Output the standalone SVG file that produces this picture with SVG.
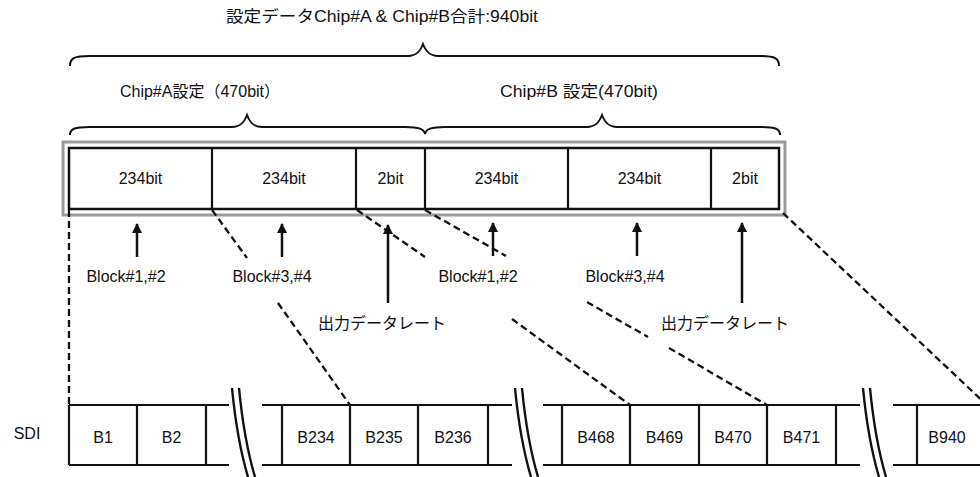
<svg xmlns="http://www.w3.org/2000/svg" width="980" height="477" viewBox="0 0 980 477">
<style>
text{font-family:"Liberation Sans","Noto Sans CJK JP",sans-serif;fill:#111;text-anchor:middle}
.lbl{font-size:16px}
.cell{font-size:16px}
.brace{fill:none;stroke:#111;stroke-width:2}
.box{fill:#fff;stroke:#111;stroke-width:2.5}
.ln{stroke:#111;stroke-width:2.2;fill:none}
.dash{stroke:#111;stroke-width:2.3;stroke-dasharray:7 4;fill:none}
.arr{stroke:#111;stroke-width:2.5;fill:none;marker-end:url(#ah)}
.brk{stroke:#111;stroke-width:2.4;fill:none}
</style>
<defs>
<marker id="ah" viewBox="0 0 10 10" refX="9" refY="5" markerWidth="4" markerHeight="4" orient="auto" markerUnits="strokeWidth">
<path d="M0,0 L10,5 L0,10 z" fill="#111"/>
</marker>
</defs>
<rect width="980" height="477" fill="#fff"/>

<g id="title">
<text class="lbl" x="226" y="22" font-size="18" style="text-anchor:start" textLength="312" lengthAdjust="spacingAndGlyphs">設定データChip#A &amp; Chip#B合計:940bit</text>
<path class="brace" d="M70,66 C70,58 74,56 90,56 L408,56 C416,56 420,52 423,44 C426,52 430,56 438,56 L759,56 C775,56 779,58 779,66"/>
</g>

<g id="chipA-label">
<text class="lbl" x="200" y="97" font-size="15.5">Chip#A設定（470bit）</text>
<path class="brace" d="M70,135 C70,129 74,127 90,127 L232,127 C240,127 244,123 247,115 C250,123 254,127 262,127 L405,127 C419,127 424,129 425,134"/>
</g>
<g id="chipB-label">
<text class="lbl" x="500" y="97" font-size="17" style="text-anchor:start" textLength="158" lengthAdjust="spacingAndGlyphs">Chip#B 設定(470bit)</text>
<path class="brace" d="M425,134 C426,129 431,127 445,127 L587,127 C595,127 599,123 602,115 C605,123 609,127 617,127 L760,127 C776,127 780,129 780,135"/>
</g>

<g id="setting-frame">
<rect x="63" y="142" width="722" height="73" fill="none" stroke="#9a9a9a" stroke-width="3"/>
<rect class="box" x="69" y="148" width="710" height="61"/>
<line class="ln" x1="212" y1="148" x2="212" y2="209"/>
<line class="ln" x1="356" y1="148" x2="356" y2="209"/>
<line class="ln" x1="425" y1="148" x2="425" y2="209"/>
<line class="ln" x1="568" y1="148" x2="568" y2="209"/>
<line class="ln" x1="711" y1="148" x2="711" y2="209"/>
</g>
<g id="a-234bit-1"><text class="lbl" x="140.5" y="184" font-size="17.5">234bit</text></g>
<g id="a-234bit-2"><text class="lbl" x="284" y="184" font-size="17.5">234bit</text></g>
<g id="a-2bit"><text class="lbl" x="390.5" y="184" font-size="17.5">2bit</text></g>
<g id="b-234bit-1"><text class="lbl" x="496.5" y="184" font-size="17.5">234bit</text></g>
<g id="b-234bit-2"><text class="lbl" x="639.5" y="184" font-size="17.5">234bit</text></g>
<g id="b-2bit"><text class="lbl" x="745" y="184" font-size="17.5">2bit</text></g>

<g id="block-labels">
<text class="lbl" x="126" y="282" font-size="17.5">Block#1,#2</text>
<text class="lbl" x="272" y="282" font-size="17.5">Block#3,#4</text>
<text class="lbl" x="478" y="282" font-size="17.5">Block#1,#2</text>
<text class="lbl" x="625" y="282" font-size="17.5">Block#3,#4</text>
<text class="lbl" x="382" y="329">出力データレート</text>
<text class="lbl" x="725" y="329">出力データレート</text>
</g>

<g id="sdi">
<text class="cell" x="27" y="439" font-size="18">SDI</text>
<g id="sdi-seg1">
<line class="ln" x1="69" y1="405" x2="229" y2="405"/>
<line class="ln" x1="69" y1="465" x2="229" y2="465"/>
<line class="ln" x1="69" y1="405" x2="69" y2="465"/>
<line class="ln" x1="137" y1="405" x2="137" y2="465"/>
<line class="ln" x1="206" y1="405" x2="206" y2="465"/>
<text class="cell" x="103" y="443">B1</text>
<text class="cell" x="171.5" y="443">B2</text>
</g>
<g id="sdi-seg2">
<line class="ln" x1="262" y1="405" x2="512" y2="405"/>
<line class="ln" x1="262" y1="465" x2="512" y2="465"/>
<line class="ln" x1="282" y1="405" x2="282" y2="465"/>
<line class="ln" x1="350" y1="405" x2="350" y2="465"/>
<line class="ln" x1="418" y1="405" x2="418" y2="465"/>
<line class="ln" x1="488" y1="405" x2="488" y2="465"/>
<text class="cell" x="316" y="443">B234</text>
<text class="cell" x="384" y="443">B235</text>
<text class="cell" x="453" y="443">B236</text>
</g>
<g id="sdi-seg3">
<line class="ln" x1="543" y1="405" x2="860" y2="405"/>
<line class="ln" x1="543" y1="465" x2="860" y2="465"/>
<line class="ln" x1="562" y1="405" x2="562" y2="465"/>
<line class="ln" x1="630" y1="405" x2="630" y2="465"/>
<line class="ln" x1="699" y1="405" x2="699" y2="465"/>
<line class="ln" x1="767" y1="405" x2="767" y2="465"/>
<line class="ln" x1="836" y1="405" x2="836" y2="465"/>
<text class="cell" x="596" y="443">B468</text>
<text class="cell" x="664.5" y="443">B469</text>
<text class="cell" x="733" y="443">B470</text>
<text class="cell" x="801.5" y="443">B471</text>
</g>
<g id="sdi-seg4">
<line class="ln" x1="893" y1="405" x2="980" y2="405"/>
<line class="ln" x1="893" y1="465" x2="980" y2="465"/>
<line class="ln" x1="917" y1="405" x2="917" y2="465"/>
<text class="cell" x="947" y="443">B940</text>
</g>
<g id="breaks">
<path class="brk" d="M232,388 Q237,440 248,477"/>
<path class="brk" d="M239,388 Q244,440 255,477"/>
<path class="brk" d="M515,388 Q520,440 531,477"/>
<path class="brk" d="M522,388 Q527,440 538,477"/>
<path class="brk" d="M863,388 Q868,440 879,477"/>
<path class="brk" d="M870,388 Q875,440 886,477"/>
</g>
</g>

<g id="connectors">
<line class="dash" x1="69" y1="210" x2="69" y2="405" stroke-dasharray="5 2.5"/>
<line class="dash" x1="212" y1="210" x2="247" y2="258"/>
<line class="dash" x1="278" y1="303" x2="350" y2="405"/>
<line class="dash" x1="357" y1="210" x2="425" y2="257"/>
<line class="dash" x1="512" y1="319" x2="630" y2="405"/>
<line class="dash" x1="425" y1="210" x2="506" y2="256"/>
<line class="dash" x1="587" y1="302" x2="648" y2="337"/>
<line class="dash" x1="669" y1="348" x2="767" y2="405"/>
<line class="dash" x1="783" y1="213" x2="990" y2="408"/>
<line class="arr" x1="137" y1="257" x2="137" y2="224"/>
<line class="arr" x1="282" y1="257" x2="282" y2="224"/>
<line class="arr" x1="388" y1="303" x2="388" y2="225"/>
<line class="arr" x1="493" y1="256" x2="493" y2="223"/>
<line class="arr" x1="637" y1="256" x2="637" y2="223"/>
<line class="arr" x1="742" y1="303" x2="742" y2="223"/>
</g>
</svg>
